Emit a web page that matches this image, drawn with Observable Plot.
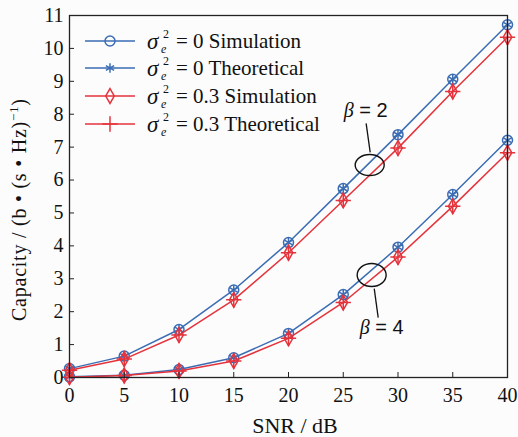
<!DOCTYPE html>
<html><head><meta charset="utf-8">
<script src="https://cdn.jsdelivr.net/npm/d3@7"></script>
<script src="https://cdn.jsdelivr.net/npm/@observablehq/plot@0.6"></script>
<style>
html,body{margin:0;padding:0;background:#fcfcfc;}
#chart{width:518px;height:437px;}
</style>
</head><body><div id="chart"></div>
<script>
// ---- data ----
const snr = [0, 5, 10, 15, 20, 25, 30, 35, 40];
const capBeta2Sig0 = [0.27, 0.65, 1.46, 2.66, 4.10, 5.74, 7.38, 9.06, 10.72];
const capBeta2Sig03 = [0.22, 0.56, 1.29, 2.36, 3.79, 5.38, 6.97, 8.69, 10.34];
const capBeta4Sig0 = [0.02, 0.07, 0.24, 0.60, 1.34, 2.52, 3.96, 5.56, 7.21];
const capBeta4Sig03 = [0.01, 0.06, 0.20, 0.50, 1.19, 2.28, 3.66, 5.20, 6.83];
const xTicks = [0, 5, 10, 15, 20, 25, 30, 35, 40];
const yTicks = [0, 1, 2, 3, 4, 5, 6, 7, 8, 9, 10, 11];
const legendSigma = ["0", "0", "0.3", "0.3"];
const legendKind = ["Simulation", "Theoretical", "Simulation", "Theoretical"];
const betaLabels = ["2", "4"];
const ellipseX = [27.46, 27.64];
const ellipseY = [6.44, 3.10];
const labelX = [27.09, 28.56];
const labelY = [8.05, 1.46];
const leaderX1 = [27.09, 27.83], leaderY1 = [7.72, 2.70];
const leaderX2 = [27.46, 28.19], leaderY2 = [6.84, 1.82];

const blue = "#3b6db4", red = "#e5333c";

const series = [
  {key: "b2s0", values: capBeta2Sig0, color: blue},
  {key: "b4s0", values: capBeta4Sig0, color: blue},
  {key: "b2s3", values: capBeta2Sig03, color: red},
  {key: "b4s3", values: capBeta4Sig03, color: red}
];
const rows = [];
for (const s of series) snr.forEach((x, i) => rows.push({snr: x, cap: s.values[i], key: s.key, color: s.color}));
const blueRows = rows.filter(d => d.color === blue);
const redRows = rows.filter(d => d.color === red);

const font = "'Liberation Serif', 'Times New Roman', serif";

const plot = Plot.plot({
  width: 518, height: 437,
  marginLeft: 69, marginRight: 11, marginTop: 15, marginBottom: 60,
  style: {fontFamily: font, fontSize: "20px", background: "transparent", color: "#111", overflow: "visible"},
  x: {domain: [0, 40]},
  y: {domain: [0, 11]},
  marks: [
    Plot.line(blueRows, {x: "snr", y: "cap", z: "key", stroke: "color", strokeWidth: 1.5}),
    Plot.dot(blueRows, {x: "snr", y: "cap", symbol: "circle", stroke: "color", r: 5, strokeWidth: 1.5}),
    Plot.dot(blueRows, {x: "snr", y: "cap", symbol: "asterisk", stroke: "color", r: 4.5, strokeWidth: 1.5}),
    Plot.line(redRows, {x: "snr", y: "cap", z: "key", stroke: "color", strokeWidth: 1.5}),
    Plot.dot(redRows, {x: "snr", y: "cap", symbol: "diamond", stroke: "color", r: 4.5, strokeWidth: 1.5}),
    Plot.dot(redRows, {x: "snr", y: "cap", symbol: "plus", stroke: "color", r: 5, strokeWidth: 1.5}),
    Plot.frame({stroke: "#222", strokeWidth: 1.3}),
    Plot.axisX(xTicks, {tickSize: -5, tickPadding: 15, label: null, fontSize: 20, stroke: "#222"}),
    Plot.axisY(yTicks, {tickSize: -5, tickPadding: 11, label: null, fontSize: 20, stroke: "#222"}),
    Plot.link(betaLabels, {x1: (d, i) => leaderX1[i], y1: (d, i) => leaderY1[i], x2: (d, i) => leaderX2[i], y2: (d, i) => leaderY2[i], stroke: "#111", strokeWidth: 1.3})
  ]
});
document.getElementById("chart").appendChild(plot);

const sx = plot.scale("x"), sy = plot.scale("y");
const svg = d3.select(plot);

// ellipses and beta labels
betaLabels.forEach((b, i) => {
  svg.append("ellipse")
    .attr("cx", sx.apply(ellipseX[i])).attr("cy", sy.apply(ellipseY[i]))
    .attr("rx", 14.5).attr("ry", i === 0 ? 10.5 : 11.5)
    .attr("fill", "none").attr("stroke", "#111").attr("stroke-width", 1.4);
  const t = svg.append("text")
    .attr("x", sx.apply(labelX[i])).attr("y", sy.apply(labelY[i]))
    .attr("text-anchor", "middle").attr("dominant-baseline", "middle")
    .attr("font-size", 20).attr("fill", "#111");
  t.append("tspan").attr("font-family", font).attr("font-style", "italic").text("β");
  t.append("tspan").attr("font-family", "'Liberation Sans', Arial, sans-serif").text(" = " + b);
});

// legend
const legendRowY = [41, 68, 96, 124];
legendKind.forEach((k, i) => {
  const y = legendRowY[i];
  const color = i < 2 ? blue : red;
  const g = svg.append("g").attr("text-anchor", "start");
  g.append("line").attr("x1", 85).attr("x2", 135).attr("y1", y).attr("y2", y)
    .attr("stroke", color).attr("stroke-width", 1.5);
  const sym = i === 0 ? d3.symbolCircle : i === 1 ? d3.symbolAsterisk : i === 2 ? d3.symbolDiamond : d3.symbolPlus;
  const size = i === 0 ? Math.PI * 25 : i === 1 ? Math.PI * 20 : i === 2 ? Math.PI * 20 : Math.PI * 25;
  g.append("path").attr("transform", `translate(110,${y})`)
    .attr("d", d3.symbol(sym, size)())
    .attr("fill", "none").attr("stroke", color).attr("stroke-width", 1.5);
  g.append("text").attr("x", 147).attr("y", y + 8).attr("font-family", font).attr("font-style", "italic")
    .attr("font-size", 23).attr("fill", "#111").text("σ");
  g.append("text").attr("x", 163).attr("y", y - 3).attr("font-family", font)
    .attr("font-size", 12).attr("fill", "#111").text("2");
  g.append("text").attr("x", 161).attr("y", y + 12).attr("font-family", font).attr("font-style", "italic")
    .attr("font-size", 12).attr("fill", "#111").text("e");
  g.append("text").attr("x", 176).attr("y", y + 7).attr("font-family", font)
    .attr("font-size", 21).attr("fill", "#111").text("= " + legendSigma[i] + " " + k);
});

// axis titles
svg.append("text").attr("x", 295).attr("y", 433).attr("text-anchor", "middle")
  .attr("font-family", font).attr("font-size", 22).attr("fill", "#111").text("SNR / dB");
const yl = svg.append("text").attr("transform", "translate(26,210) rotate(-90)").attr("text-anchor", "middle")
  .attr("font-family", font).attr("font-size", 20).attr("fill", "#111")
  .attr("textLength", 222).attr("lengthAdjust", "spacing");
yl.append("tspan").text("Capacity / (b \u2022 (s \u2022 Hz)");
yl.append("tspan").attr("font-size", 13).attr("dy", -8).text("\u22121");
yl.append("tspan").attr("dy", 8).text(")");
</script>
</body></html>
